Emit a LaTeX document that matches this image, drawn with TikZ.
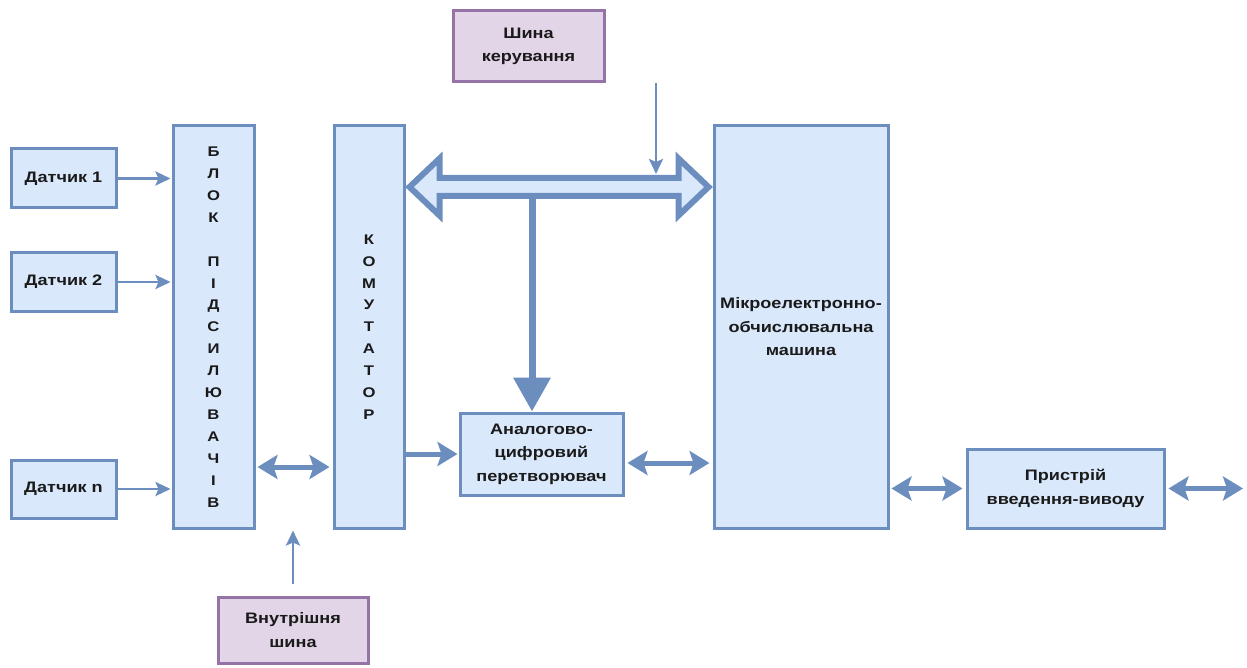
\documentclass[tikz,border=0pt]{standalone}
\usepackage{fontspec}
\setmainfont{Liberation Sans}
\newfontfamily\wfont{Liberation Sans}[FakeStretch=1.19]
\usetikzlibrary{arrows.meta,calc}
\definecolor{bfill}{HTML}{DAE8FC}
\definecolor{bstroke}{HTML}{6C8EBF}
\definecolor{pfill}{HTML}{E1D5E7}
\definecolor{pstroke}{HTML}{9673A6}
\definecolor{txt}{HTML}{1A1A1A}
\begin{document}
\begin{tikzpicture}[x=1pt,y=-1pt,
  box/.style={draw=bstroke, fill=bfill, line width=3pt, inner sep=0pt, align=center,
    text=txt, font=\wfont\bfseries\fontsize{15.2}{23.5}\selectfont},
  pbox/.style={box, draw=pstroke, fill=pfill},
  vtext/.style={font=\wfont\bfseries\fontsize{14}{21.9}\selectfont},
  thinarr/.style={draw=bstroke, line width=2.8pt, -{Stealth[length=15pt,width=14pt,inset=3pt]}},
  barr/.style={draw=bstroke, line width=5pt, -{Stealth[length=20pt,width=24pt,inset=4pt]}},
  dblarr/.style={barr, {Stealth[length=20pt,width=24pt,inset=4pt]}-{Stealth[length=20pt,width=24pt,inset=4pt]}},
  bus/.style={draw=bstroke, fill=bfill, line width=6pt, line join=miter}
]
\useasboundingbox (0,0) rectangle (1247,668);

% nodes
\node[box, minimum width=105pt, minimum height=59pt] (d1) at (63.5,178.5) {Датчик 1};
\node[box, minimum width=105pt, minimum height=58pt] (d2) at (63.5,282) {Датчик 2};
\node[box, minimum width=105pt, minimum height=58pt] (dn) at (63.5,489) {Датчик n};
\node[box, vtext, minimum width=81pt, minimum height=402pt] (blk) at (213.5,327)
  {Б\\Л\\О\\К\\[21.9pt]П\\І\\Д\\С\\И\\Л\\Ю\\В\\А\\Ч\\І\\В};
\node[box, vtext, minimum width=70pt, minimum height=402pt] (kom) at (369,327)
  {К\\О\\М\\У\\Т\\А\\Т\\О\\Р};
\node[box, minimum width=174pt, minimum height=402pt] (mem) at (801,327)
  {Мікроелектронно-\\обчислювальна\\машина};
\node[box, minimum width=163pt, minimum height=82pt] (adc) at (541.5,454)
  {Аналогово-\\цифровий\\перетворювач};
\node[box, minimum width=197pt, minimum height=79pt] (io) at (1065.5,488.5)
  {Пристрій\\введення-виводу};
\node[pbox, minimum width=151pt, minimum height=71pt] (sk) at (528.5,46.5)
  {Шина\\керування};
\node[pbox, minimum width=150pt, minimum height=66pt] (vs) at (293,630)
  {Внутрішня\\шина};

% helper coordinates
\coordinate (by) at (0,187);
\coordinate (r1) at (0,467);
\coordinate (r2) at (0,463);
\coordinate (vx) at (532,0);
\coordinate (sx) at (656,0);
\coordinate (bt) at (0,174);
\coordinate (ioout) at (1243,0);

% sensor arrows
\draw[thinarr, shorten >=1pt] (d1.east) -- (d1.east -| blk.west);
\draw[thinarr, shorten >=1pt] (d2.east) -- (d2.east -| blk.west);
\draw[thinarr, shorten >=1pt] (dn.east) -- (dn.east -| blk.west);

% block <-> commutator
\draw[dblarr, shorten <=2pt, shorten >=3pt] (blk.east |- r1) -- (kom.west |- r1);

% internal bus arrow
\draw[thinarr, shorten >=1pt] ([yshift=12pt]vs.north) -- (vs.north |- blk.south);

% commutator -> ADC
\draw[barr, shorten >=1pt] (kom.east |- adc.west) -- (adc.west);

% ADC <-> MEM
\draw[dblarr, shorten <=3pt, shorten >=3pt] (adc.east |- r2) -- (mem.west |- r2);

% MEM <-> IO, IO <-> out
\draw[dblarr, shorten <=2pt, shorten >=3pt] (mem.east |- io.west) -- (io.west);
\draw[dblarr, shorten <=3pt] (io.east) -- (ioout |- io.east);

% vertical thick arrow from bus to ADC
\draw[draw=bstroke, line width=7pt, -{Triangle[length=34pt,width=36pt]}] (vx |- by) -- (vx |- adc.north);

% big bus double arrow
\coordinate (bL) at ($(kom.east |- by)+(4,0)$);
\coordinate (bR) at ($(mem.west |- by)+(-4,0)$);
\draw[bus] (bL) -- ($(bL)+(30,-28.5)$) -- ($(bL)+(30,-9)$) -- ($(bR)+(-30,-9)$)
  -- ($(bR)+(-30,-28.5)$) -- (bR) -- ($(bR)+(-30,28.5)$) -- ($(bR)+(-30,9)$)
  -- ($(bL)+(30,9)$) -- ($(bL)+(30,28.5)$) -- cycle;

% control bus arrow
\draw[thinarr] (sk.south -| sx) -- (sx |- bt);
\end{tikzpicture}
\end{document}
